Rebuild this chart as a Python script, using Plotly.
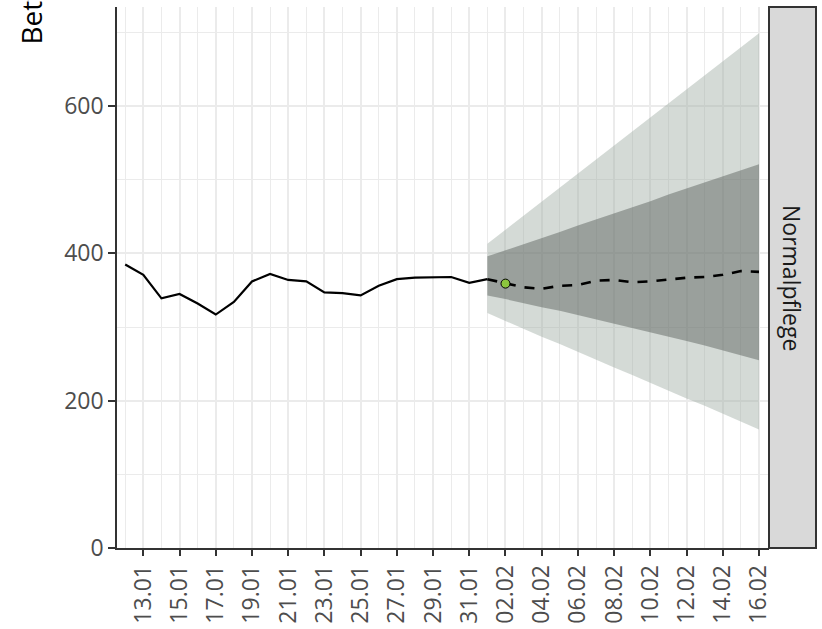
import plotly.graph_objects as go
import pandas as pd

# observed values (daily)
obs_dates = pd.date_range("2021-01-12", "2021-02-01", freq="D")
obs_values = [385, 371, 339, 345, 332, 317, 334, 362, 372, 364, 362,
              347, 346, 343, 356, 365, 367, 368, 368, 360, 365]

# forecast (daily)
fc_dates = pd.date_range("2021-02-01", "2021-02-16", freq="D")
fc_median = [365, 359, 354, 352, 356, 357, 363, 364, 361, 362, 365, 367, 368, 371, 376, 375]
outer_hi = [413, 432, 451, 470, 489, 508, 527, 546, 565, 584, 604, 623, 642, 661, 680, 699]
outer_lo = [319, 308, 298, 287, 277, 266, 256, 245, 235, 224, 214, 203, 193, 182, 172, 161]
inner_hi = [396, 404, 412, 421, 429, 438, 446, 454, 463, 471, 480, 488, 496, 505, 513, 521]
inner_lo = [343, 338, 333, 327, 322, 316, 311, 305, 299, 293, 287, 281, 275, 268, 262, 255]

# current point
now_date = ["2021-02-02"]
now_value = [359]

facet_label = "Normalpflege"
y_title = "Betten"
y_ticks = [0, 200, 400, 600]

FONT = "Open Sans"
W, H = 822, 629
L, R, T, B = 117, 53, 7, 81

fig = go.Figure()

xs = list(fc_dates) + list(fc_dates[::-1])
fig.add_trace(go.Scatter(x=xs, y=outer_hi + outer_lo[::-1], fill="toself",
                         fillcolor="rgba(160,172,165,0.45)", line=dict(width=0),
                         mode="lines", hoverinfo="skip", showlegend=False))
fig.add_trace(go.Scatter(x=xs, y=inner_hi + inner_lo[::-1], fill="toself",
                         fillcolor="rgba(90,95,92,0.47)", line=dict(width=0),
                         mode="lines", hoverinfo="skip", showlegend=False))
fig.add_trace(go.Scatter(x=obs_dates, y=obs_values, mode="lines",
                         line=dict(color="black", width=2.2), showlegend=False))
fig.add_trace(go.Scatter(x=fc_dates, y=fc_median, mode="lines",
                         line=dict(color="black", width=2.6, dash="10px,9px"),
                         showlegend=False))
fig.add_trace(go.Scatter(x=now_date, y=now_value, mode="markers",
                         marker=dict(color="#8cc63e", size=9,
                                     line=dict(color="black", width=1)),
                         showlegend=False))

plot_w = W - L - R
plot_h = H - T - B

# facet strip
fig.add_shape(type="rect", xref="paper", yref="paper",
              x0=1, x1=1 + 47 / plot_w, y0=0, y1=1,
              fillcolor="#d9d9d9", line=dict(color="#333333", width=2), layer="above")
fig.add_annotation(text=facet_label, xref="paper", yref="paper",
                   x=1 + 23.5 / plot_w, y=0.5, textangle=90, showarrow=False,
                   font=dict(family=FONT, size=23, color="#1a1a1a"),
                   xanchor="center", yanchor="middle")

# y-axis title (partially cut off at the top, as in the reference)
fig.add_annotation(text=y_title, xref="paper", yref="paper",
                   x=-(L - 30) / plot_w, y=(H - B - 47) / plot_h,
                   textangle=-90, showarrow=False,
                   font=dict(family=FONT, size=28, color="black"),
                   xanchor="center", yanchor="bottom")

fig.update_layout(
    width=W, height=H,
    margin=dict(l=L, r=R, t=T, b=B, pad=0, autoexpand=False),
    plot_bgcolor="white", paper_bgcolor="white",
    font=dict(family=FONT, size=23, color="#4d4d4d"),
    showlegend=False,
)

fig.update_xaxes(
    type="date", automargin=False,
    range=["2021-01-11 13:07", "2021-02-16 13:15"],
    tick0="2021-01-13", dtick=2 * 86400000, tickformat="%d.%m",
    tickangle=-90, ticks="outside", ticklen=6, tickwidth=1.6, tickcolor="#333333",
    tickfont=dict(family=FONT, size=23, color="#4d4d4d"),
    showline=True, linecolor="#333333", linewidth=1.6,
    showgrid=True, gridcolor="#ebebeb", gridwidth=2,
    minor=dict(dtick=86400000, tick0="2021-01-12", showgrid=True,
               gridcolor="#ebebeb", gridwidth=1.3),
    zeroline=False,
)
fig.update_yaxes(
    automargin=False,
    range=[0, 734.6],
    tickvals=y_ticks, ticks="outside", ticklen=7, tickwidth=1.6, tickcolor="#333333",
    tickfont=dict(family=FONT, size=23, color="#4d4d4d"),
    showline=True, linecolor="#333333", linewidth=1.6,
    showgrid=True, gridcolor="#ebebeb", gridwidth=2,
    minor=dict(tickvals=[100, 300, 500, 700], showgrid=True,
               gridcolor="#ebebeb", gridwidth=1.3),
    zeroline=False,
)

fig.write_html("out.html",
               config={"displayModeBar": False},
               post_script="document.body.style.margin='0';document.body.style.overflow='hidden';")
